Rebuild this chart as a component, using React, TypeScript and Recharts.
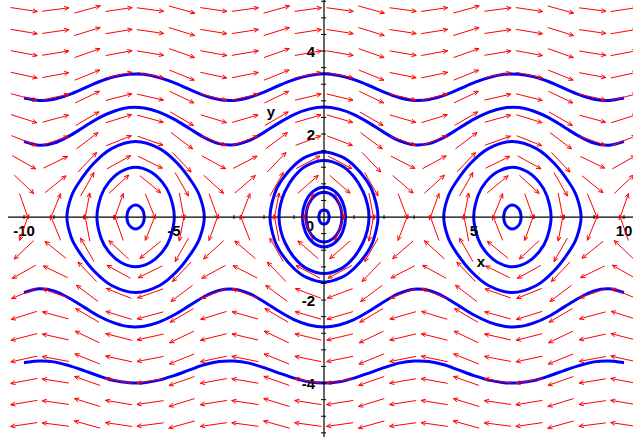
import React from "react";
import { ScatterChart, Scatter, XAxis, YAxis } from "recharts";

const W = 633;
const H = 437;
const X_DOMAIN: [number, number] = [-10.8, 10.3];
const Y_DOMAIN: [number, number] = [-5.3, 5.23];
const X_PX = W / (X_DOMAIN[1] - X_DOMAIN[0]);
const Y_PX = H / (Y_DOMAIN[1] - Y_DOMAIN[0]);

const BLUE = "#0000ff";
const RED = "#ff0000";
const FONT = "'Liberation Sans', Arial, sans-serif";

// direction field grid (20 x 20) and arrow components
const fieldX = [-10, -8.95, -7.89, -6.84, -5.79, -4.74, -3.68, -2.63, -1.58, -0.53, 0.53, 1.58, 2.63, 3.68, 4.74, 5.79, 6.84, 7.89, 8.95, 10];
const fieldY = [5, 4.47, 3.95, 3.42, 2.89, 2.37, 1.84, 1.32, 0.79, 0.26, -0.26, -0.79, -1.32, -1.84, -2.37, -2.89, -3.42, -3.95, -4.47, -5];
const rowDx = [5, 4.47, 3.95, 3.42, 2.89, 2.37, 1.84, 1.32, 0.79, 0.26, -0.26, -0.79, -1.32, -1.84, -2.37, -2.89, -3.42, -3.95, -4.47, -5];
const colDy = [-0.54, 0.46, 1.0, 0.53, -0.47, -1.0, -0.52, 0.49, 1.0, 0.5, -0.5, -1.0, -0.49, 0.52, 1.0, 0.47, -0.53, -1.0, -0.46, 0.54];

// open trajectories
const waveX = [-10, -9.5, -9, -8.5, -8, -7.5, -7, -6.5, -6, -5.5, -5, -4.5, -4, -3.5, -3, -2.5, -2, -1.5, -1, -0.5, 0, 0.5, 1, 1.5, 2, 2.5, 3, 3.5, 4, 4.5, 5, 5.5, 6, 6.5, 7, 7.5, 8, 8.5, 9, 9.5, 10];
const waveTop = [2.87, 2.81, 2.84, 2.95, 3.1, 3.26, 3.38, 3.44, 3.44, 3.36, 3.24, 3.08, 2.93, 2.83, 2.81, 2.88, 3.01, 3.17, 3.31, 3.41, 3.45, 3.41, 3.31, 3.17, 3.01, 2.88, 2.81, 2.83, 2.93, 3.08, 3.24, 3.36, 3.44, 3.44, 3.38, 3.26, 3.1, 2.95, 2.84, 2.81, 2.87];
const waveUpper = [1.82, 1.73, 1.78, 1.95, 2.17, 2.39, 2.55, 2.64, 2.63, 2.53, 2.36, 2.14, 1.92, 1.77, 1.74, 1.84, 2.04, 2.27, 2.47, 2.6, 2.65, 2.6, 2.47, 2.27, 2.04, 1.84, 1.74, 1.77, 1.92, 2.14, 2.36, 2.53, 2.63, 2.64, 2.55, 2.39, 2.17, 1.95, 1.78, 1.73, 1.82];
const waveLower = [-1.82, -1.73, -1.78, -1.95, -2.17, -2.39, -2.55, -2.64, -2.63, -2.53, -2.36, -2.14, -1.92, -1.77, -1.74, -1.84, -2.04, -2.27, -2.47, -2.6, -2.65, -2.6, -2.47, -2.27, -2.04, -1.84, -1.74, -1.77, -1.92, -2.14, -2.36, -2.53, -2.63, -2.64, -2.55, -2.39, -2.17, -1.95, -1.78, -1.73, -1.82];
const waveBottom = [-3.51, -3.47, -3.49, -3.58, -3.7, -3.83, -3.94, -3.99, -3.99, -3.93, -3.82, -3.69, -3.56, -3.48, -3.47, -3.52, -3.63, -3.76, -3.88, -3.97, -4.0, -3.97, -3.88, -3.76, -3.63, -3.52, -3.47, -3.48, -3.56, -3.69, -3.82, -3.93, -3.99, -3.99, -3.94, -3.83, -3.7, -3.58, -3.49, -3.47, -3.51];

// closed trajectories, [x, y]
const leftOuter = [[-3.99, 0], [-4.13, 0.48], [-4.38, 0.82], [-4.88, 1.29], [-5.48, 1.65], [-6.28, 1.82], [-7.08, 1.65], [-7.68, 1.29], [-8.18, 0.82], [-8.43, 0.48], [-8.57, 0], [-8.43, -0.48], [-8.18, -0.82], [-7.68, -1.29], [-7.08, -1.65], [-6.28, -1.82], [-5.48, -1.65], [-4.88, -1.29], [-4.38, -0.82], [-4.13, -0.48]];
const leftMiddle = [[-4.99, 0], [-5.13, 0.51], [-5.38, 0.83], [-5.78, 1.09], [-6.28, 1.2], [-6.78, 1.09], [-7.18, 0.83], [-7.43, 0.51], [-7.57, 0], [-7.43, -0.51], [-7.18, -0.83], [-6.78, -1.09], [-6.28, -1.2], [-5.78, -1.09], [-5.38, -0.83], [-5.13, -0.51]];
const leftSmall = [[-5.99, 0], [-6.03, 0.15], [-6.14, 0.25], [-6.28, 0.29], [-6.42, 0.25], [-6.53, 0.15], [-6.57, 0], [-6.53, -0.15], [-6.42, -0.25], [-6.28, -0.29], [-6.14, -0.25], [-6.03, -0.15]];
const rightOuter = [[8.57, 0], [8.43, 0.48], [8.18, 0.82], [7.68, 1.29], [7.08, 1.65], [6.28, 1.82], [5.48, 1.65], [4.88, 1.29], [4.38, 0.82], [4.13, 0.48], [3.99, 0], [4.13, -0.48], [4.38, -0.82], [4.88, -1.29], [5.48, -1.65], [6.28, -1.82], [7.08, -1.65], [7.68, -1.29], [8.18, -0.82], [8.43, -0.48]];
const rightMiddle = [[7.57, 0], [7.43, 0.51], [7.18, 0.83], [6.78, 1.09], [6.28, 1.2], [5.78, 1.09], [5.38, 0.83], [5.13, 0.51], [4.99, 0], [5.13, -0.51], [5.38, -0.83], [5.78, -1.09], [6.28, -1.2], [6.78, -1.09], [7.18, -0.83], [7.43, -0.51]];
const rightSmall = [[6.57, 0], [6.53, 0.15], [6.42, 0.25], [6.28, 0.29], [6.14, 0.25], [6.03, 0.15], [5.99, 0], [6.03, -0.15], [6.14, -0.25], [6.28, -0.29], [6.42, -0.25], [6.53, -0.15]];
const midOuter = [[1.8, 0], [1.65, 0.55], [1.4, 0.9], [1.0, 1.24], [0.6, 1.45], [0, 1.57], [-0.6, 1.45], [-1.0, 1.24], [-1.4, 0.9], [-1.65, 0.55], [-1.8, 0], [-1.65, -0.55], [-1.4, -0.9], [-1.0, -1.24], [-0.6, -1.45], [0, -1.57], [0.6, -1.45], [1.0, -1.24], [1.4, -0.9], [1.65, -0.55]];
const midSecond = [[1.5, 0], [1.45, 0.3], [1.3, 0.62], [1.0, 0.97], [0.6, 1.23], [0, 1.36], [-0.6, 1.23], [-1.0, 0.97], [-1.3, 0.62], [-1.45, 0.3], [-1.5, 0], [-1.45, -0.3], [-1.3, -0.62], [-1.0, -0.97], [-0.6, -1.23], [0, -1.36], [0.6, -1.23], [1.0, -0.97], [1.3, -0.62], [1.45, -0.3]];
const midInner = [[0.72, 0], [0.62, 0.36], [0.36, 0.62], [0, 0.72], [-0.36, 0.62], [-0.62, 0.36], [-0.72, 0], [-0.62, -0.36], [-0.36, -0.62], [0, -0.72], [0.36, -0.62], [0.62, -0.36]];
const midInner2 = [[0.6, 0], [0.52, 0.3], [0.3, 0.52], [0, 0.6], [-0.3, 0.52], [-0.52, 0.3], [-0.6, 0], [-0.52, -0.3], [-0.3, -0.52], [0, -0.6], [0.3, -0.52], [0.52, -0.3]];
const midTiny = [[0.17, 0], [0.15, 0.09], [0.09, 0.15], [0, 0.17], [-0.09, 0.15], [-0.15, 0.09], [-0.17, 0], [-0.15, -0.09], [-0.09, -0.15], [0, -0.17], [0.09, -0.15], [0.15, -0.09]];

// axes and tick labels
const xTicks = [-10, -9, -8, -7, -6, -5, -4, -3, -2, -1, 1, 2, 3, 4, 5, 6, 7, 8, 9, 10];
const yTicks = [-5.2, -4.8, -4.4, -4, -3.6, -3.2, -2.8, -2.4, -2, -1.6, -1.2, -0.8, -0.4, 0.4, 0.8, 1.2, 1.6, 2, 2.4, 2.8, 3.2, 3.6, 4, 4.4, 4.8, 5.2];
const xLabelValues = [-10, -5, 5, 10];
const xLabelText = ["-10", "-5", "5", "10"];
const yLabelValues = [4, 2, -2, -4];
const yLabelText = ["4", "2", "-2", "-4"];
const xAxisLine = [[-10.53, 0], [10.3, 0]];
const yAxisLine = [[0, -5.3], [0, 5.23]];
const axisTitles = [
  { x: 5.23, y: -1.06, label: "x" },
  { x: -1.77, y: 2.55, label: "y" },
  { x: -0.47, y: -0.2, label: "0" },
];

const pts = (arr: number[][]) => arr.map(([x, y]) => ({ x, y }));
const wave = (ys: number[]) => waveX.map((x, i) => ({ x, y: ys[i] }));

const fieldData = fieldY.flatMap((y, j) =>
  fieldX.map((x, i) => ({ x, y, u: rowDx[j], v: colDy[i] }))
);

function smoothPath(p: { x: number; y: number }[], closed: boolean) {
  const n = p.length;
  const get = (i: number) => (closed ? p[(i + n) % n] : p[Math.max(0, Math.min(n - 1, i))]);
  let d = `M${p[0].x},${p[0].y}`;
  const segs = closed ? n : n - 1;
  for (let i = 0; i < segs; i++) {
    const p0 = get(i - 1), p1 = get(i), p2 = get(i + 1), p3 = get(i + 2);
    const c1x = p1.x + (p2.x - p0.x) / 6, c1y = p1.y + (p2.y - p0.y) / 6;
    const c2x = p2.x - (p3.x - p1.x) / 6, c2y = p2.y - (p3.y - p1.y) / 6;
    d += ` C${c1x},${c1y} ${c2x},${c2y} ${p2.x},${p2.y}`;
  }
  return closed ? d + " Z" : d;
}

const closedLine = (props: any) => (
  <path d={smoothPath(props.points, true)} fill="none" stroke={BLUE} strokeWidth={3} />
);
const openLine = (props: any) => (
  <path d={smoothPath(props.points, false)} fill="none" stroke={BLUE} strokeWidth={3} />
);
const blackLine = (props: any) => {
  const [a, b] = props.points;
  return <line x1={a.x} y1={a.y} x2={b.x} y2={b.y} stroke="#000" strokeWidth={1.2} />;
};
const noDot = () => <g />;

const Arrow = (props: any) => {
  const { cx, cy, payload } = props;
  let dx = payload.u * X_PX;
  let dy = -payload.v * Y_PX;
  const m = Math.hypot(dx, dy) || 1;
  dx /= m;
  dy /= m;
  const L = 13.5;
  const x2 = cx + dx * L, y2 = cy + dy * L;
  const h = 5, a = 0.42;
  const bx = -dx, by = -dy;
  const h1x = x2 + h * (bx * Math.cos(a) - by * Math.sin(a));
  const h1y = y2 + h * (bx * Math.sin(a) + by * Math.cos(a));
  const h2x = x2 + h * (bx * Math.cos(-a) - by * Math.sin(-a));
  const h2y = y2 + h * (bx * Math.sin(-a) + by * Math.cos(-a));
  return (
    <g stroke={RED} strokeWidth={1} fill="none">
      <line x1={cx - dx * L} y1={cy - dy * L} x2={x2} y2={y2} />
      <polyline points={`${h1x},${h1y} ${x2},${y2} ${h2x},${h2y}`} />
    </g>
  );
};

const XTick = (p: any) => <line x1={p.cx} y1={p.cy - 2} x2={p.cx} y2={p.cy + 2} stroke="#000" />;
const YTick = (p: any) => <line x1={p.cx - 3} y1={p.cy} x2={p.cx + 2} y2={p.cy} stroke="#000" />;
const XLabel = (p: any) => (
  <text x={p.cx} y={p.cy + 19} textAnchor="middle" fontFamily={FONT} fontWeight="bold" fontSize={15} fill="#000">
    {p.payload.label}
  </text>
);
const YLabel = (p: any) => (
  <text x={p.cx - 9} y={p.cy + 6} textAnchor="end" fontFamily={FONT} fontWeight="bold" fontSize={15} fill="#000">
    {p.payload.label}
  </text>
);
const TitleLabel = (p: any) => (
  <text x={p.cx} y={p.cy} textAnchor="middle" dominantBaseline="central" fontFamily={FONT} fontWeight="bold" fontSize={15} fill="#000">
    {p.payload.label}
  </text>
);

const closedCurves = [leftOuter, leftMiddle, leftSmall, rightOuter, rightMiddle, rightSmall, midOuter, midSecond, midInner, midInner2, midTiny];
const openCurves = [waveTop, waveUpper, waveLower, waveBottom];

export default function App() {
  return (
    <div style={{ position: "absolute", left: 0, top: 0, background: "#fff" }}>
      <ScatterChart width={W} height={H} margin={{ top: 0, right: 0, bottom: 0, left: 0 }}>
        <XAxis type="number" dataKey="x" domain={X_DOMAIN} allowDataOverflow hide />
        <YAxis type="number" dataKey="y" domain={Y_DOMAIN} allowDataOverflow hide />
        <Scatter data={axisTitles} shape={TitleLabel} isAnimationActive={false} />
        {closedCurves.map((c, i) => (
          <Scatter key={"c" + i} data={pts(c)} line={closedLine} shape={noDot} isAnimationActive={false} />
        ))}
        {openCurves.map((c, i) => (
          <Scatter key={"o" + i} data={wave(c)} line={openLine} shape={noDot} isAnimationActive={false} />
        ))}
        <Scatter data={pts(xAxisLine)} line={blackLine} shape={noDot} isAnimationActive={false} />
        <Scatter data={pts(yAxisLine)} line={blackLine} shape={noDot} isAnimationActive={false} />
        <Scatter data={xTicks.map((x) => ({ x, y: 0 }))} shape={XTick} isAnimationActive={false} />
        <Scatter data={yTicks.map((y) => ({ x: 0, y }))} shape={YTick} isAnimationActive={false} />
        <Scatter data={xLabelValues.map((x, i) => ({ x, y: 0, label: xLabelText[i] }))} shape={XLabel} isAnimationActive={false} />
        <Scatter data={yLabelValues.map((y, i) => ({ x: 0, y, label: yLabelText[i] }))} shape={YLabel} isAnimationActive={false} />
        <Scatter data={fieldData} shape={Arrow} isAnimationActive={false} />
      </ScatterChart>
    </div>
  );
}
